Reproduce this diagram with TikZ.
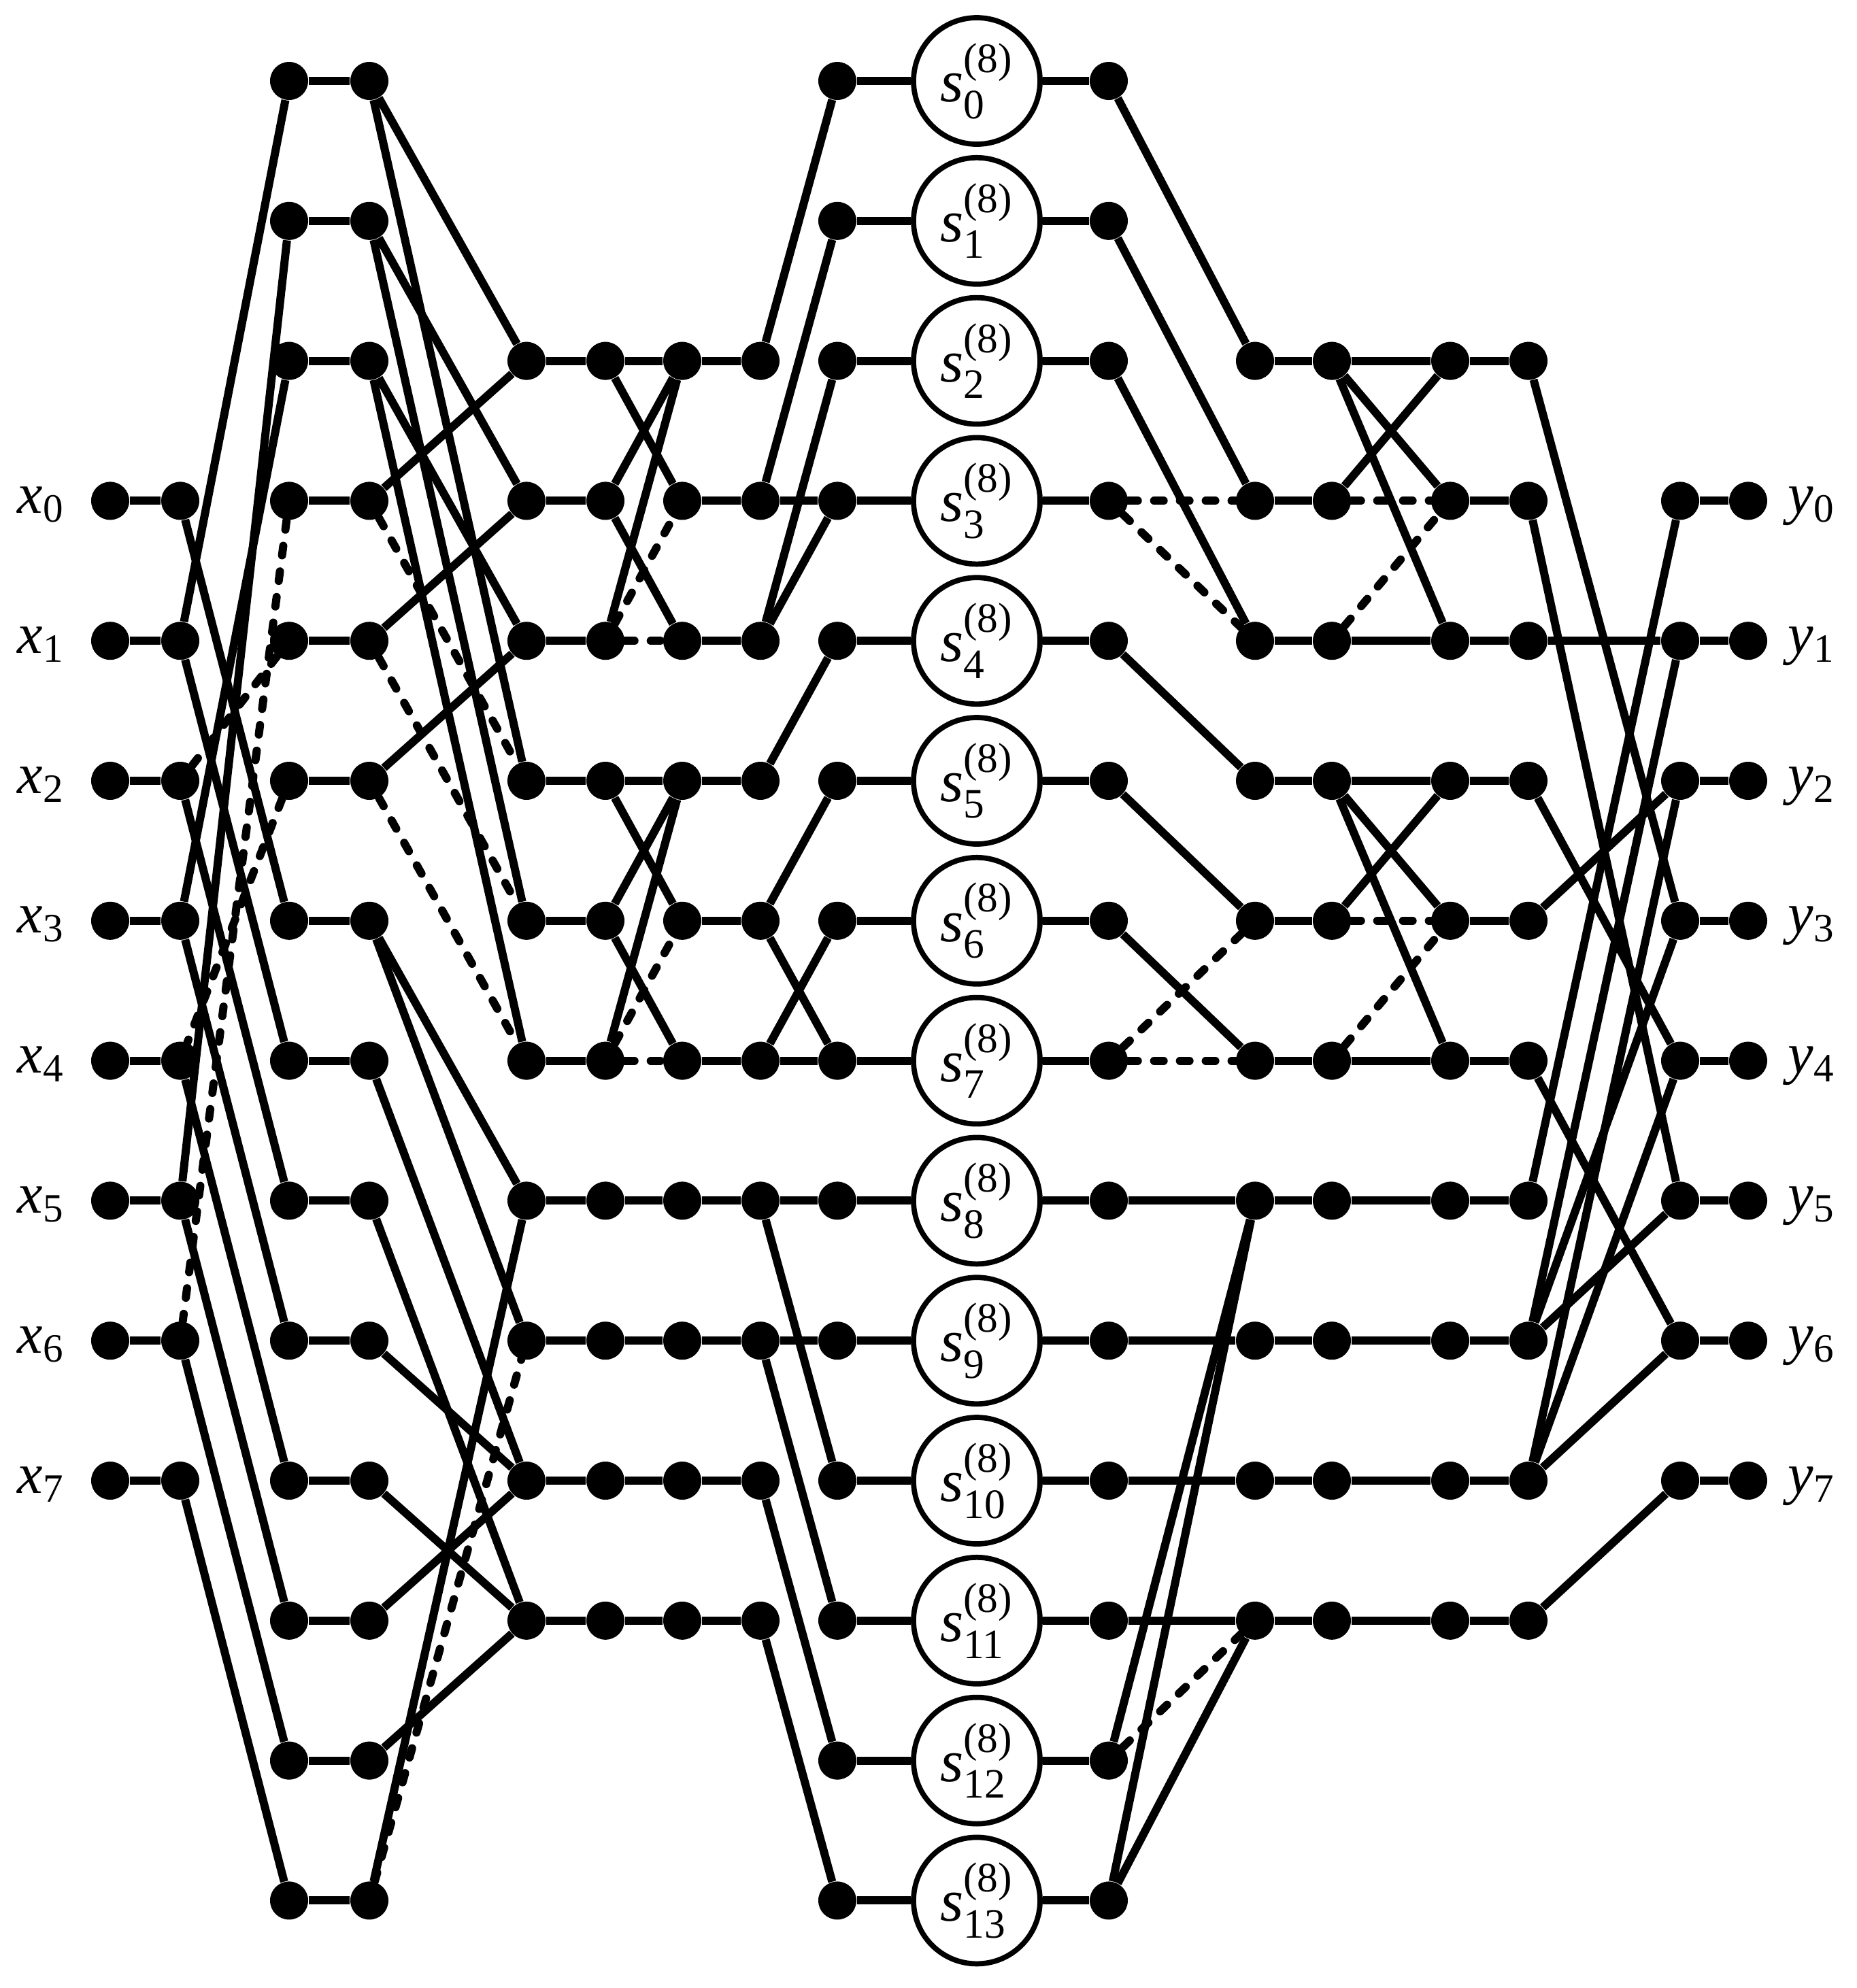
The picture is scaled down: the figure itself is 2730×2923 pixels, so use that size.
\documentclass[tikz,border=0pt]{standalone}
\usepackage{amsmath}
\usepackage{fontspec}
\setmainfont{Liberation Serif}
\begin{document}
\begin{tikzpicture}[x=0.1mm,y=-0.1mm,
  dot/.style={circle,fill=black,inner sep=0pt,minimum size=5.6mm},
  ln/.style={line width=3.4pt},
  dl/.style={line width=3.4pt,line cap=round,dash pattern=on 4pt off 6.8pt},
  sc/.style={circle,draw=black,fill=white,line width=2.2pt,minimum size=18.6mm,inner sep=0pt,font=\fontsize{25}{30}\selectfont},
  lab/.style={inner sep=0pt,anchor=base west,font=\fontsize{24}{28}\selectfont}]
\useasboundingbox (0,0) rectangle (2730,2923);
% dots
\foreach \c/\x/\a/\b in {A/162/3/10,B/265/3/10,C/425/0/13,D/543/0/13,E/774/2/11,F/890/2/11,G/1003/2/11,H/1118/2/11,I/1231/0/13,J/1630/0/13,K/1845/2/11,L/1958/2/11,M/2132/2/11,N/2247/2/11,O/2470/3/10,P/2570/3/10}
  \foreach \r in {\a,...,\b}
    \node[dot] (\c\r) at (\x,{119+205.8*\r}) {};
% multiplier circles
\foreach \r in {0,...,13}
  \node[sc] (S\r) at (1436,{119+205.8*\r}) {$\textit{s}^{\text{(8)}}_{\text{\r}}$};
% input / output labels
\foreach \i in {0,...,7} {
  \node[lab] (xl\i) at (25,{119+205.8*(\i+3)+18}) {\textit{x}$_{\text{\i}}$};
  \node[lab] (yl\i) at (2628,{119+205.8*(\i+3)+18}) {\textit{y}$_{\text{\i}}$};
}
% horizontal wires
\foreach \r in {3,...,10} {\draw[ln] (A\r) -- (B\r); \draw[ln] (O\r) -- (P\r);}
\foreach \r in {0,...,13} {\draw[ln] (C\r) -- (D\r); \draw[ln] (I\r) -- (S\r); \draw[ln] (S\r) -- (J\r);}
\foreach \r in {2,...,11} {\draw[ln] (E\r) -- (F\r); \draw[ln] (G\r) -- (H\r); \draw[ln] (K\r) -- (L\r); \draw[ln] (M\r) -- (N\r);}
% solid connectors
\foreach \u/\v in {B3/C6,B4/C7,B5/C8,B6/C9,B7/C10,B8/C11,B9/C12,B10/C13,C0/B4,C1/B8,C2/B6,
  D0/E2,D0/E5,D1/E3,D1/E6,D2/E4,D2/E7,D3/E2,D4/E3,D5/E4,D6/E8,D6/E9,D7/E10,D8/E11,D9/E10,D10/E11,D11/E10,D12/E11,D13/E8,
  F2/G2,F2/G3,F3/G2,F3/G4,F4/G2,F5/G5,F5/G6,F6/G5,F6/G7,F7/G5,F8/G8,F9/G9,F10/G10,F11/G11,
  H2/I0,H3/I1,H4/I2,H3/I3,H4/I3,H5/I4,H6/I5,H7/I6,H6/I7,H7/I7,H8/I8,H8/I10,H9/I9,H9/I11,H10/I12,H11/I13,
  J0/K2,J1/K3,J2/K4,J4/K5,J5/K6,J6/K7,J8/K8,J9/K9,J10/K10,J11/K11,J12/K8,J13/K8,J13/K11,
  L2/M2,L2/M3,L2/M4,L3/M2,L4/M4,L5/M5,L5/M6,L5/M7,L6/M5,L7/M7,L8/M8,L9/M9,L10/M10,L11/M11,
  N2/O6,N3/O8,N4/O4,N5/O7,N6/O5,N7/O9,N8/O3,N9/O4,N9/O6,N9/O8,N10/O5,N10/O7,N10/O9,N11/O10}
  \draw[ln] (\u) -- (\v);
% dashed connectors
\foreach \u/\v in {C3/B9,C4/B5,C5/B7,D3/E5,D4/E6,D5/E7,D13/E9,F4/G3,F4/G4,F7/G6,F7/G7,
  J3/K3,J3/K4,J7/K6,J7/K7,J12/K11,L3/M3,L4/M3,L6/M6,L7/M6}
  \draw[dl] (\u) -- (\v);
\end{tikzpicture}
\end{document}
